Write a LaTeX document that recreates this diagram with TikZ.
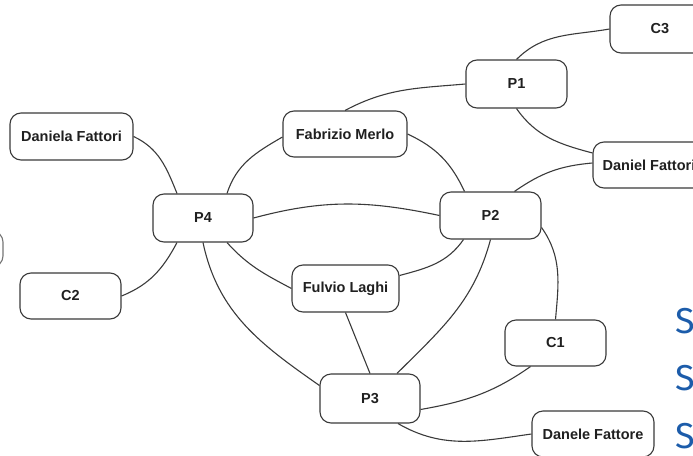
\documentclass[tikz,border=0pt]{standalone}
\usepackage{fontspec}
\setmainfont{Liberation Sans}
\newfontfamily\sidefont{Fira Sans}
\definecolor{edgegray}{HTML}{3A3A3A}
\definecolor{textgray}{HTML}{202020}
\definecolor{sideblue}{HTML}{1C5CAA}
\begin{document}
\begin{tikzpicture}[x=1pt, y=-1pt,
  box/.style={draw=edgegray, line width=1.1pt, rounded corners=11pt,
    fill=white, inner sep=0pt, text=textgray,
    font=\fontsize{14.5}{16}\selectfont\bfseries},
  link/.style={draw=edgegray, line width=1.1pt},
  sideletter/.style={anchor=base west, inner sep=0pt, text=sideblue,
    font=\sidefont\fontsize{36}{36}\selectfont}]
\useasboundingbox (0,0) rectangle (693,455);
\clip (0,0) rectangle (693,455);

% people and projects
\node[box, minimum width=123pt, minimum height=47pt] (danielaF) at (71.5,136.5) {Daniela Fattori};
\node[box, minimum width=101pt, minimum height=46pt] (c2) at (70.5,296) {C2};
\node[box, minimum width=100pt, minimum height=48pt] (p4) at (203,218) {P4};
\node[box, minimum width=124pt, minimum height=46pt] (fabrizio) at (345,134) {Fabrizio Merlo};
\node[box, minimum width=107pt, minimum height=47pt] (fulvio) at (345.5,288.5) {Fulvio Laghi};
\node[box, minimum width=100pt, minimum height=49pt] (p3) at (370,398.5) {P3};
\node[box, minimum width=101pt, minimum height=47pt] (p2) at (490.5,215.5) {P2};
\node[box, minimum width=101pt, minimum height=48pt] (p1) at (516.5,84) {P1};
\node[box, minimum width=100pt, minimum height=48pt] (c3) at (660,29) {C3};
\node[box, minimum width=112pt, minimum height=46pt] (danielF) at (649,165) {Daniel Fattori};
\node[box, minimum width=101pt, minimum height=46pt] (c1) at (555.5,343) {C1};
\node[box, minimum width=122pt, minimum height=46pt] (danele) at (593,434) {Danele Fattore};
\node[box, draw=edgegray!70, minimum width=100pt, minimum height=36pt] (leftstub) at (-47,249) {};

% connections
\draw[link] (danielaF.east) to[out=-25, in=112] ([xshift=-26pt]p4.north);
\draw[link] (c2.east) to[out=22, in=-118] ([xshift=-26pt]p4.south);
\draw[link] ([xshift=24pt]p4.north) to[out=72, in=-150] ([yshift=-3pt]fabrizio.west);
\draw[link] (p4.east) to[out=15, in=168] (p2.west);
\draw[link] ([xshift=24pt]p4.south) to[out=-48, in=152] (fulvio.west);
\draw[link] (p4.south) to[out=-78, in=145] ([yshift=13pt]p3.west);
\draw[link] (fabrizio.north) to[out=28, in=185] (p1.west);
\draw[link] (fabrizio.east) to[out=-25, in=115] ([xshift=-26pt]p2.north);
\draw[link] (p1.north) to[out=45, in=190] (c3.west);
\draw[link] (p1.south) to[out=-55, in=165] ([yshift=12pt]danielF.west);
\draw[link] ([xshift=24pt]p2.north) to[out=35, in=185] ([yshift=2pt]danielF.west);
\draw[link] ([yshift=13pt]fulvio.east) to[out=15, in=-125] ([xshift=-27pt]p2.south);
\draw[link] (p2.south) to[out=-105, in=45] ([xshift=27pt]p3.north);
\draw[link] ([yshift=-12pt]p2.east) to[out=-55, in=85] (c1.north);
\draw[link] (fulvio.south) -- (p3.north);
\draw[link] ([yshift=-11pt]p3.east) to[out=10, in=-145] ([xshift=-25pt]c1.south);
\draw[link] ([xshift=28pt]p3.south) to[out=-30, in=188] (danele.west);

% lettering on the right
\node[sideletter] (s1) at (675,333) {S};
\node[sideletter] (s2) at (675,390) {S};
\node[sideletter] (s3) at (675,448) {S};
\end{tikzpicture}
\end{document}
